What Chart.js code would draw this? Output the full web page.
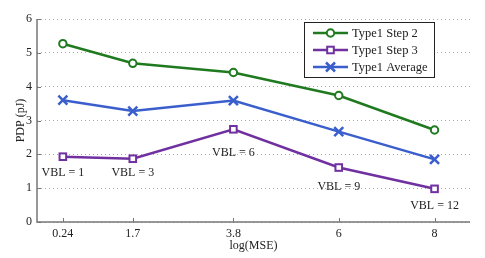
<!DOCTYPE html>
<html><head><meta charset="utf-8">
<script src="https://cdn.jsdelivr.net/npm/chart.js@4/dist/chart.umd.min.js"></script>
<style>html,body{margin:0;padding:0;background:#fff}#wrap{width:485px;height:258px}</style>
</head><body><div id="wrap"><canvas id="c" width="485" height="258"></canvas></div>
<script>
const xValues = [0.24, 1.7, 3.8, 6, 8];
const xTickLabels = ['0.24', '1.7', '3.8', '6', '8'];
const step2 = [5.27, 4.69, 4.42, 3.74, 2.72];
const step3 = [1.93, 1.87, 2.74, 1.61, 0.98];
const average = [3.60, 3.28, 3.59, 2.67, 1.85];
const vblLabels = ['VBL = 1', 'VBL = 3', 'VBL = 6', 'VBL = 9', 'VBL = 12'];
const vblLabelY = [1.45, 1.45, 2.05, 1.04, 0.47];
const seriesNames = ['Type1 Step 2', 'Type1 Step 3', 'Type1 Average'];

const GREEN = '#1f7a1f', PURPLE = '#7030a0', BLUE = '#3a5fcd';
const FONT = '"Liberation Serif", "Times New Roman", serif';

function pts(arr){ return arr.map((v,i)=>({x:xValues[i], y:v})); }

function drawMarker(ctx, style, x, y, color){
  ctx.save();
  ctx.strokeStyle = color; ctx.lineWidth = 2;
  if (style === 'circle'){
    ctx.fillStyle = '#fff';
    ctx.beginPath(); ctx.arc(x, y, 3.7, 0, Math.PI*2); ctx.fill(); ctx.stroke();
  } else if (style === 'rect'){
    ctx.fillStyle = '#fff';
    ctx.fillRect(x-3.3, y-3.3, 6.6, 6.6); ctx.strokeRect(x-3.3, y-3.3, 6.6, 6.6);
  } else {
    ctx.lineWidth = 2.5;
    ctx.beginPath(); ctx.moveTo(x-4.5,y-4.5); ctx.lineTo(x+4.5,y+4.5); ctx.moveTo(x+4.5,y-4.5); ctx.lineTo(x-4.5,y+4.5); ctx.stroke();
  }
  ctx.restore();
}

const markerStyles = ['circle', 'rect', 'cross'];
const colors = [GREEN, PURPLE, BLUE];

const extras = {
  id: 'extras',
  afterDatasetsDraw(chart){
    const ctx = chart.ctx, xs = chart.scales.x, ys = chart.scales.y;
    const area = chart.chartArea;
    chart.data.datasets.forEach((ds, di) => {
      ds.data.forEach(p => drawMarker(ctx, markerStyles[di], xs.getPixelForValue(p.x), ys.getPixelForValue(p.y), colors[di]));
    });
    ctx.save();
    ctx.strokeStyle = '#777'; ctx.lineWidth = 1.5;
    ctx.beginPath();
    ctx.moveTo(area.left, area.top); ctx.lineTo(area.left, area.bottom); ctx.lineTo(area.right, area.bottom);
    ctx.stroke();
    ctx.lineWidth = 1;
    ctx.beginPath();
    xValues.forEach(v => { const px = Math.round(xs.getPixelForValue(v)) + 0.5; ctx.moveTo(px, area.bottom); ctx.lineTo(px, area.bottom-4); });
    for (let v = 0; v <= 6; v++){ const py = Math.round(ys.getPixelForValue(v)) + 0.5; ctx.moveTo(area.left, py); ctx.lineTo(area.left+4, py); }
    ctx.stroke();
    ctx.fillStyle = '#222'; ctx.font = '12px ' + FONT;
    ctx.textAlign = 'center'; ctx.textBaseline = 'middle';
    vblLabels.forEach((t, i) => ctx.fillText(t, xs.getPixelForValue(xValues[i]), ys.getPixelForValue(vblLabelY[i])));
    const lx = 304, ly = 22, lw = 130, lh = 55;
    ctx.fillStyle = '#fff'; ctx.fillRect(lx, ly, lw, lh);
    ctx.strokeStyle = '#222'; ctx.lineWidth = 1; ctx.strokeRect(lx+0.5, ly+0.5, lw, lh);
    ctx.textAlign = 'left'; ctx.font = '12.5px ' + FONT;
    seriesNames.forEach((n, i) => {
      const y = ly + 11 + i*17;
      ctx.strokeStyle = colors[i]; ctx.lineWidth = 2.5;
      ctx.beginPath(); ctx.moveTo(313, y); ctx.lineTo(348, y); ctx.stroke();
      drawMarker(ctx, markerStyles[i], 330.5, y, colors[i]);
      ctx.fillStyle = '#222'; ctx.fillText(n, 352, y+0.5);
    });
    ctx.restore();
  }
};

new Chart(document.getElementById('c'), {
  type: 'line',
  data: {
    datasets: [
      { label: seriesNames[0], data: pts(step2), borderColor: GREEN, borderWidth: 2.5, pointRadius: 0, tension: 0 },
      { label: seriesNames[1], data: pts(step3), borderColor: PURPLE, borderWidth: 2.5, pointRadius: 0, tension: 0 },
      { label: seriesNames[2], data: pts(average), borderColor: BLUE, borderWidth: 2.5, pointRadius: 0, tension: 0 }
    ]
  },
  options: {
    responsive: false, animation: false,
    layout: { padding: { top: 19, right: 15, left: 0, bottom: 0 } },
    plugins: { legend: { display: false }, tooltip: { enabled: false } },
    scales: {
      x: {
        type: 'linear', min: -0.3, max: 8.74,
        afterBuildTicks(s){ s.ticks = xValues.map(v => ({ value: v })); },
        afterFit(s){ s.height = 36; },
        ticks: { autoSkip: false, maxRotation: 0, padding: 5, color: '#222', font: { family: FONT, size: 12 },
          callback(v){ const i = xValues.indexOf(v); return i >= 0 ? xTickLabels[i] : ''; } },
        grid: { display: false, drawTicks: false },
        border: { display: false },
        title: { display: true, text: 'log(MSE)', color: '#222', font: { family: FONT, size: 12 }, padding: { top: 0, bottom: 5 } }
      },
      y: {
        min: 0, max: 6,
        afterFit(s){ s.width = 37; },
        ticks: { stepSize: 1, padding: 5, color: '#222', font: { family: FONT, size: 12 } },
        grid: { color: '#aaa', lineWidth: 1, drawTicks: false },
        border: { display: false, dash: [1, 3] },
        title: { display: true, text: 'PDP (pJ)', color: '#222', font: { family: FONT, size: 12 }, padding: { top: 14, bottom: 0 } }
      }
    }
  },
  plugins: [extras]
});
</script>
</body></html>
